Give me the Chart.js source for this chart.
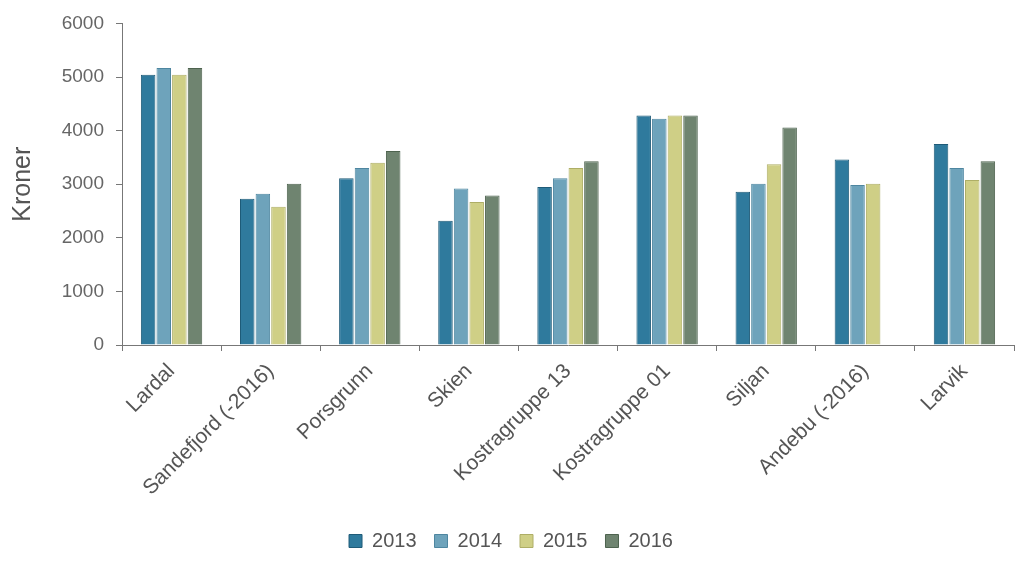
<!DOCTYPE html>
<html>
<head>
<meta charset="utf-8">
<script src="https://cdn.jsdelivr.net/npm/chart.js@4"></script>
<style>
html,body{margin:0;padding:0;background:#fff;}
#wrap{width:1024px;height:577px;}
</style>
</head>
<body>
<div id="wrap"><canvas id="c" width="1024" height="577"></canvas></div>
<script>
const categories = ["Lardal","Sandefjord (-2016)","Porsgrunn","Skien","Kostragruppe 13","Kostragruppe 01","Siljan","Andebu (-2016)","Larvik"];
const seriesNames = ["2013","2014","2015","2016"];
const v2013 = [5040, 2730, 3110, 2320, 2950, 4280, 2860, 3460, 3750];
const v2014 = [5170, 2820, 3300, 2920, 3110, 4220, 3010, 2985, 3300];
const v2015 = [5040, 2580, 3400, 2670, 3300, 4280, 3370, 3010, 3080];
const v2016 = [5170, 3010, 3620, 2790, 3430, 4280, 4060, null, 3430];
const yTicks = [0,1000,2000,3000,4000,5000,6000];

const fills = ["#2f7a9d","#6ea3bb","#cfcf86","#6f8470"];
const borders = ["#1f5b78","#4e86a0","#aeae66","#4e634f"];
const values = [v2013, v2014, v2015, v2016];

const datasets = seriesNames.map((n,i)=>({
  label:n, data:values[i], backgroundColor:fills[i], borderColor:borders[i],
  borderWidth:1, categoryPercentage:0.63, barPercentage:0.93
}));

Chart.defaults.font.family = "'Liberation Sans', Arial, sans-serif";
new Chart(document.getElementById('c'), {
  type:'bar',
  data:{labels:categories, datasets},
  options:{
    responsive:false, animation:false,
    layout:{padding:{top:14,right:10,left:8,bottom:16}},
    plugins:{
      legend:{position:'bottom',
        labels:{boxWidth:13,boxHeight:13,font:{size:20},color:'#555',padding:18}},
      tooltip:{enabled:false}
    },
    scales:{
      x:{
        afterFit:(s)=>{s.height = 168;},
        grid:{drawOnChartArea:false,drawTicks:true,tickLength:6,color:'#777'},
        border:{color:'#777',width:1},
        ticks:{color:'#555',font:{size:21},maxRotation:45,minRotation:45,padding:8}
      },
      y:{
        min:0,max:6000,
        afterFit:(s)=>{s.width = 114;},
        afterBuildTicks:(ax)=>{ax.ticks = yTicks.map(v=>({value:v}));},
        grid:{drawOnChartArea:false,drawTicks:true,tickLength:6,color:'#777'},
        border:{color:'#777',width:1},
        ticks:{color:'#666',font:{size:19},padding:12,callback:(v)=>String(v)},
        title:{display:true,text:'Kroner',color:'#555',font:{size:25},padding:{top:0,bottom:10}}
      }
    }
  }
});
</script>
</body>
</html>
